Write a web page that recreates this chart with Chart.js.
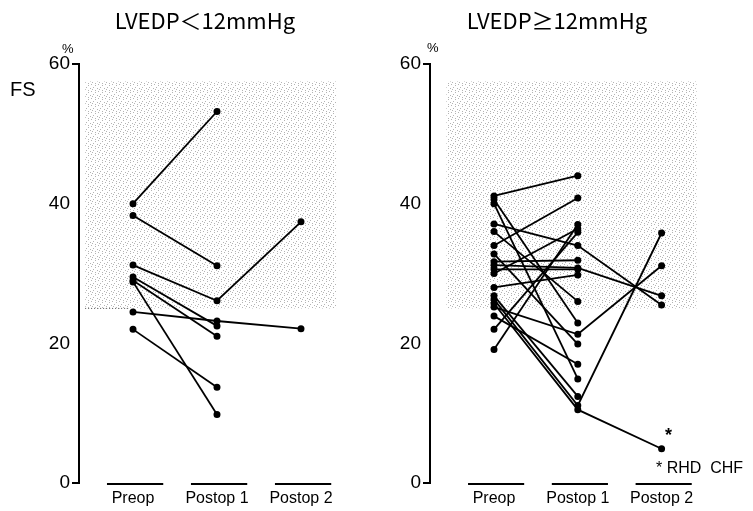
<!DOCTYPE html>
<html lang="en">
<head>
  <meta charset="UTF-8" />
  <title>FS before and after surgery by LVEDP</title>
  <script src="https://cdn.jsdelivr.net/npm/chart.js"></script>
  <style>
    body { margin: 0; background: #fff; width: 753px; height: 511px; position: relative; overflow: hidden; font-family: "Liberation Sans", Arial, sans-serif; color: #000; }
    canvas { position: absolute; top: 0; }
    #leftChart { left: 0; }
    #rightChart { left: 360px; }
    .txt { position: absolute; white-space: nowrap; }
    .ttl { font-family: "Noto Sans CJK JP", "Noto Sans", sans-serif; font-size: 22px; line-height: 22px; top: 8px; width: 240px; text-align: center; }
  </style>
</head>
<body>
  <canvas id="leftChart" width="360" height="511"></canvas>
  <canvas id="rightChart" width="393" height="511"></canvas>

  <div class="txt ttl" style="left:85px">LVEDP＜12mmHg</div>
  <div class="txt ttl" style="left:437px">LVEDP≥12mmHg</div>
  <div class="txt" style="left:10px; top:78px; font-size:20px;">FS</div>
  <div class="txt" style="left:62px; top:41px; font-size:13px;">%</div>
  <div class="txt" style="left:427px; top:40px; font-size:13px;">%</div>
  <div class="txt" style="left:656px; top:459px; font-size:16px;">* RHD&nbsp;&nbsp;CHF</div>

  <script>
    const categories = ['Preop', 'Postop 1', 'Postop 2'];
    const yTicks = [0, 20, 40, 60];

    // LVEDP < 12 mmHg, one entry per patient
    const leftPreop   = [40.0, 38.3, 31.2, 29.5, 29.0, 28.8, 24.5, 22.0];
    const leftPostop1 = [53.2, 31.1, 26.1, 22.5, 21.0, 9.8, 23.2, 13.7];
    const leftPostop2 = [null, null, 37.4, null, null, null, 22.1, null];

    // LVEDP >= 12 mmHg
    const rightPreop   = [41.1, 40.6, 40.0, 37.1, 36.0, 34.0, 32.8, 31.7, 31.2, 30.6, 30.0, 28.0, 26.8, 26.3, 25.7, 25.2, 23.9, 22.0, 19.1];
    const rightPostop1 = [44.0, 22.9, 14.9, 34.0, 26.0, 40.8, 19.9, 31.9, 30.8, 30.6, 36.4, 29.8, 12.4, 11.1, 10.5, 21.3, 17.0, 35.9, 37.0];
    const rightPostop2 = [null, null, null, 25.5, null, null, null, null, 26.8, null, null, null, null, 35.8, 4.9, 31.1, null, null, null];
    const rhdPatient = 14; // marked with *

    // stippled normal range
    const normalBand = [25, 57.5];
    const bandSpan = [-0.57, 2.42];

    function stipple() {
      const c = document.createElement('canvas');
      c.width = 7; c.height = 7;
      const g = c.getContext('2d');
      g.fillStyle = '#b4b4b4';
      [[0, 0], [4, 1], [2, 3], [6, 4], [1, 5], [4, 6]].forEach(p => g.fillRect(p[0], p[1], 1, 1));
      return g.createPattern(c, 'repeat');
    }

    function patientSets(pre, p1, p2) {
      return pre.map((v, i) => ({
        data: [v, p1[i], p2[i]].map((y, x) => ({ x: x, y: y })).filter(p => p.y !== null),
        borderColor: '#000',
        backgroundColor: '#000',
        borderWidth: 1.8,
        pointRadius: 2.6,
        pointHoverRadius: 2.6,
        order: 1
      }));
    }

    function bandSets(withEdge) {
      const sets = [{
        data: [{ x: bandSpan[0], y: normalBand[1] }, { x: bandSpan[1], y: normalBand[1] }],
        fill: { value: normalBand[0] },
        backgroundColor: stipple(),
        borderWidth: 0,
        pointRadius: 0,
        order: 5
      }];
      if (withEdge) {
        sets.push({
          data: [{ x: bandSpan[0], y: normalBand[0] }, { x: -0.04, y: normalBand[0] }],
          borderColor: '#555',
          borderWidth: 1,
          borderDash: [1, 2],
          pointRadius: 0,
          fill: false,
          order: 4
        });
      }
      return sets;
    }

    const decor = {
      id: 'decor',
      afterDraw(chart, args, opts) {
        const { ctx, scales: { x, y } } = chart;
        ctx.save();
        ctx.strokeStyle = '#000';
        ctx.lineWidth = 2;
        categories.forEach((c, i) => {
          const yy = y.getPixelForValue(0) + 1;
          ctx.beginPath();
          ctx.moveTo(x.getPixelForValue(i - 0.31), yy);
          ctx.lineTo(x.getPixelForValue(i + 0.36), yy);
          ctx.stroke();
        });
        if (opts.star) {
          ctx.fillStyle = '#000';
          ctx.font = 'bold 18px "Liberation Sans", Arial';
          ctx.textAlign = 'center';
          ctx.textBaseline = 'middle';
          ctx.fillText('*', x.getPixelForValue(opts.star.x) + 7, y.getPixelForValue(opts.star.y) - 13);
        }
        ctx.restore();
      }
    };

    function makeChart(id, pre, p1, p2, axisWidth, padRight, xMin, xMax, star, withEdge) {
      return new Chart(document.getElementById(id), {
        type: 'line',
        data: { datasets: bandSets(withEdge).concat(patientSets(pre, p1, p2)) },
        plugins: [decor],
        options: {
          responsive: false,
          animation: false,
          clip: false,
          layout: { padding: { left: 0, top: 64, right: padRight, bottom: 0 } },
          plugins: {
            legend: { display: false },
            tooltip: { enabled: false },
            title: { display: false },
            decor: { star: star }
          },
          scales: {
            x: {
              type: 'linear',
              min: xMin,
              max: xMax,
              afterBuildTicks: s => { s.ticks = categories.map((c, i) => ({ value: i })); },
              afterFit: s => { s.height = 28; },
              ticks: {
                callback: v => categories[v],
                color: '#000',
                padding: 6,
                font: { family: '"Liberation Sans", Arial', size: 16 }
              },
              grid: { display: false, drawTicks: false },
              border: { display: false }
            },
            y: {
              type: 'linear',
              min: 0,
              max: 60,
              afterBuildTicks: s => { s.ticks = yTicks.map(v => ({ value: v })); },
              afterFit: s => { s.width = axisWidth; },
              ticks: {
                color: '#000',
                padding: 2,
                font: { family: '"Liberation Sans Narrow", "Liberation Sans", Arial', size: 19 }
              },
              grid: {
                drawOnChartArea: false,
                drawTicks: true,
                tickLength: 7,
                lineWidth: 2,
                color: c => (c.tick && (c.tick.value === 0 || c.tick.value === 60)) ? '#000' : 'rgba(0,0,0,0)'
              },
              border: { display: true, color: '#000', width: 2 }
            }
          }
        }
      });
    }

    makeChart('leftChart', leftPreop, leftPostop1, leftPostop2, 79, 15, -0.643, 2.524, null, true);
    makeChart('rightChart', rightPreop, rightPostop1, rightPostop2, 70, 13, -0.764, 2.936,
      { x: 2, y: rightPostop2[rhdPatient] }, false);
  </script>
</body>
</html>
